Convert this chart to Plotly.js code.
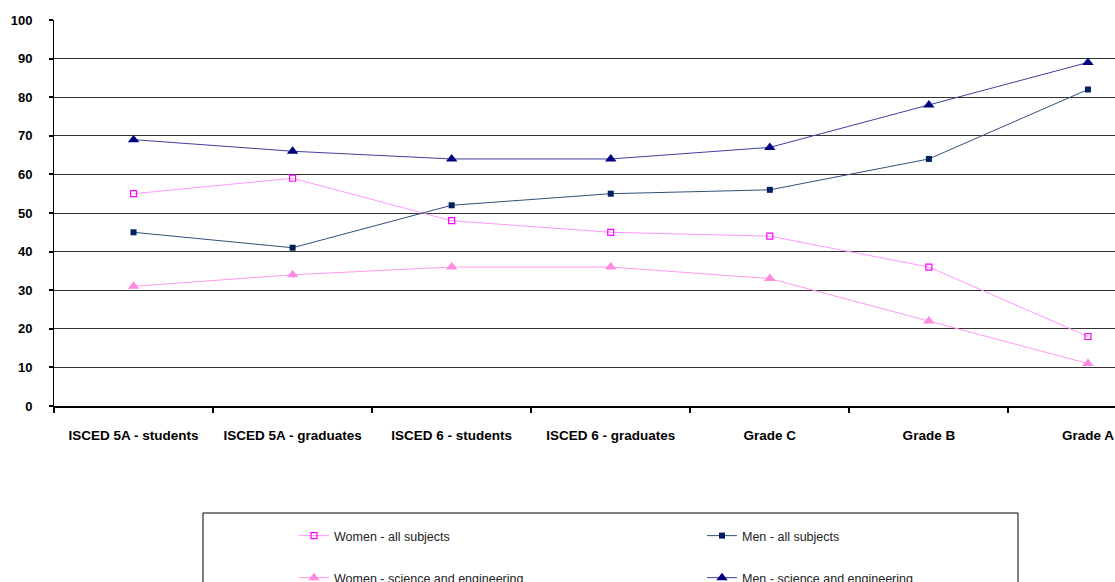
<!DOCTYPE html>
<html>
<head>
<meta charset="utf-8">
<script src="https://cdn.plot.ly/plotly-3.0.1.min.js"></script>
<style>
html,body{margin:0;padding:0;background:#fff;}
#chart{width:1115px;height:582px;}
</style>
</head>
<body>
<div id="chart"></div>
<script>
var categories = ["ISCED 5A - students", "ISCED 5A - graduates", "ISCED 6 - students", "ISCED 6 - graduates", "Grade C", "Grade B", "Grade A"];
var womenAll = [55, 59, 48, 45, 44, 36, 18];
var menAll = [45, 41, 52, 55, 56, 64, 82];
var womenSE = [31, 34, 36, 36, 33, 22, 11];
var menSE = [69, 66, 64, 64, 67, 78, 89];
var yTicks = [0, 10, 20, 30, 40, 50, 60, 70, 80, 90, 100];

var FONT = "'Liberation Sans', Arial, sans-serif";

var traces = [
  {x: categories, y: womenAll, name: "Women - all subjects", type: "scatter", mode: "lines+markers",
   line: {color: "#FF99FF", width: 1}, marker: {symbol: "square-open", size: 6, color: "#FF00FF", line: {width: 1.2, color: "#FF00FF"}}, legend: "legend"},
  {x: categories, y: menAll, name: "Men - all subjects", type: "scatter", mode: "lines+markers",
   line: {color: "#33507A", width: 1}, marker: {symbol: "square", size: 6, color: "#002060"}, legend: "legend"},
  {x: categories, y: womenSE, name: "Women - science and engineering", type: "scatter", mode: "lines+markers",
   line: {color: "#FF99EE", width: 1}, marker: {symbol: "triangle-up", size: 10, color: "#FF88E0"}, legend: "legend2"},
  {x: categories, y: menSE, name: "Men - science and engineering", type: "scatter", mode: "lines+markers",
   line: {color: "#3F3FA0", width: 1}, marker: {symbol: "triangle-up", size: 10, color: "#000080"}, legend: "legend2"}
];

function px2x(p){ return (p - 54) / 1061; }
function px2y(p){ return (406 - p) / 386; }

var legendCommon = {
  orientation: "h", xanchor: "left", yanchor: "middle",
  font: {family: FONT, size: 12.5, color: "#222"},
  bgcolor: "rgba(0,0,0,0)", borderwidth: 0,
  entrywidth: 363, entrywidthmode: "pixels", itemclick: false, itemdoubleclick: false
};

var layout = {
  width: 1115, height: 582,
  margin: {l: 54, r: 0, t: 20, b: 176, pad: 0, autoexpand: false},
  paper_bgcolor: "#fff", plot_bgcolor: "#fff",
  showlegend: true,
  xaxis: {
    type: "category", range: [-0.5, 6.17], tickson: "boundaries", automargin: false,
    showline: true, linecolor: "#000", linewidth: 2,
    ticks: "outside", ticklen: 5, tickwidth: 2, tickcolor: "#000",
    ticklabelstandoff: 16,
    tickfont: {family: FONT, size: 13.5, color: "#000", weight: "bold"},
    showgrid: false, zeroline: false, fixedrange: true
  },
  yaxis: {
    range: [0, 100], tickvals: yTicks, ticktext: yTicks.map(String), automargin: false,
    showline: true, linecolor: "#000", linewidth: 1,
    ticks: "outside", ticklen: 4, tickwidth: 2, tickcolor: "#000",
    ticklabelstandoff: 14,
    tickfont: {family: FONT, size: 13, color: "#000", weight: "bold"},
    showgrid: true, gridcolor: "#333", gridwidth: 1, zeroline: false, fixedrange: true
  },
  legend: Object.assign({}, legendCommon, {x: px2x(294), y: px2y(536)}),
  legend2: Object.assign({}, legendCommon, {x: px2x(294), y: px2y(578)}),
  shapes: [
    {type: "rect", xref: "paper", yref: "paper", x0: px2x(203), x1: px2x(1018), y0: px2y(513), y1: px2y(600),
     line: {color: "#000", width: 1}, fillcolor: "rgba(0,0,0,0)", layer: "below"}
  ]
};

Plotly.newPlot("chart", traces, layout, {displayModeBar: false, staticPlot: true});
</script>
</body>
</html>
